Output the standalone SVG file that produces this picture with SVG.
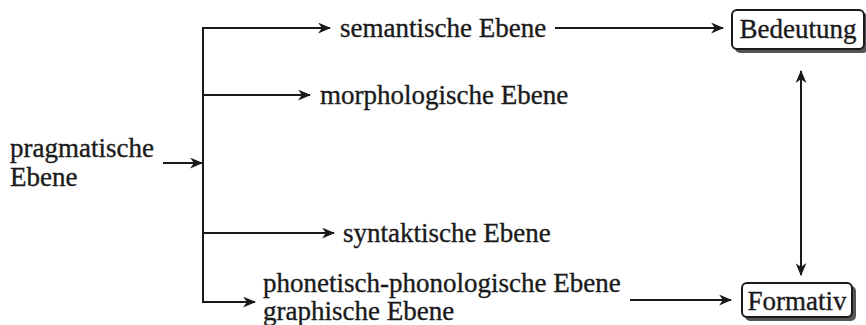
<svg xmlns="http://www.w3.org/2000/svg" width="866" height="325" viewBox="0 0 866 325">
  <style>
    .t { font-family: "Liberation Serif", "DejaVu Serif", serif; font-size: 27px; fill: #1a1a1a; stroke: #1a1a1a; stroke-width: 0.35; }
    .ln { fill: none; stroke: #1a1a1a; stroke-width: 2; }
    .box { fill: #ffffff; stroke: #1a1a1a; stroke-width: 2; }
    .shadow { fill: #555555; }
  </style>
  <defs>
    <marker id="arr" viewBox="0 0 12 10" refX="11" refY="5" markerWidth="13" markerHeight="11" markerUnits="userSpaceOnUse" orient="auto-start-reverse">
      <path d="M0,0 L12,5 L0,10 L3.5,5 Z" fill="#1a1a1a"/>
    </marker>
  </defs>

  <g id="connectors">
    <!-- trunk from pragmatic level -->
    <line class="ln" x1="163" y1="163" x2="202" y2="163" marker-end="url(#arr)"/>
    <line class="ln" x1="203" y1="28" x2="203" y2="302"/>
    <!-- branches -->
    <line class="ln" x1="202" y1="28" x2="330" y2="28" marker-end="url(#arr)"/>
    <line class="ln" x1="202" y1="95" x2="310" y2="95" marker-end="url(#arr)"/>
    <line class="ln" x1="202" y1="233" x2="334" y2="233" marker-end="url(#arr)"/>
    <line class="ln" x1="202" y1="302" x2="255" y2="302" marker-end="url(#arr)"/>
    <!-- to the boxes -->
    <line class="ln" x1="555" y1="28" x2="723" y2="28" marker-end="url(#arr)"/>
    <line class="ln" x1="630" y1="300" x2="731" y2="300" marker-end="url(#arr)"/>
    <!-- meaning <-> formative -->
    <line class="ln" x1="801" y1="71" x2="801" y2="275" marker-start="url(#arr)" marker-end="url(#arr)"/>
  </g>

  <g id="pragmatisch">
    <text class="t" x="10" y="157">pragmatische</text>
    <text class="t" x="10" y="186">Ebene</text>
  </g>
  <g id="semantisch">
    <text class="t" x="340" y="37">semantische Ebene</text>
  </g>
  <g id="morphologisch">
    <text class="t" x="320" y="104">morphologische Ebene</text>
  </g>
  <g id="syntaktisch">
    <text class="t" x="343" y="242">syntaktische Ebene</text>
  </g>
  <g id="phonetisch">
    <text class="t" x="263" y="292">phonetisch-phonologische Ebene</text>
    <text class="t" x="263" y="320">graphische Ebene</text>
  </g>
  <g id="bedeutung">
    <rect class="shadow" x="735" y="13" width="133" height="40" rx="5"/>
    <rect class="box" x="732" y="10" width="132" height="39" rx="5"/>
    <text class="t" x="798" y="38" text-anchor="middle">Bedeutung</text>
  </g>
  <g id="formativ">
    <rect class="shadow" x="745" y="286" width="111" height="35" rx="5"/>
    <rect class="box" x="742" y="283" width="110" height="34" rx="5"/>
    <text class="t" x="797" y="310" text-anchor="middle">Formativ</text>
  </g>
</svg>
